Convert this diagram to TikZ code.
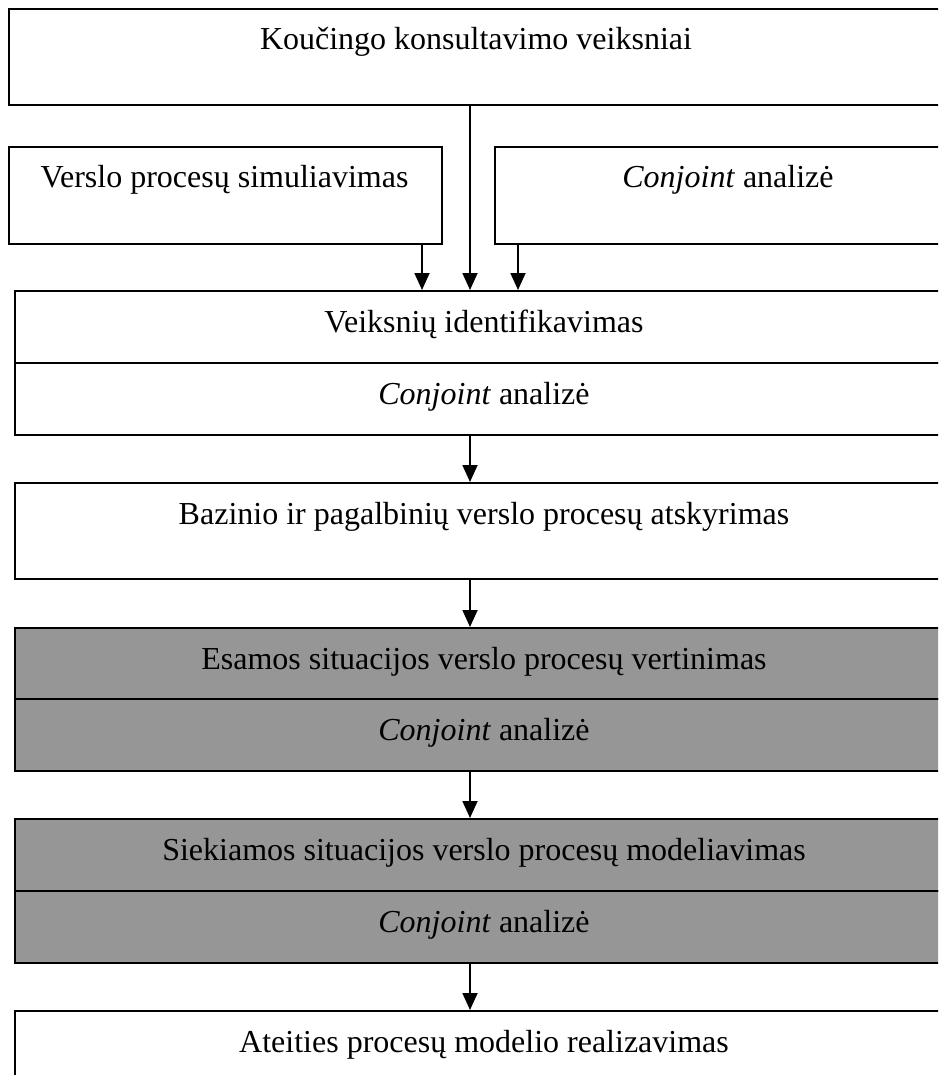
\documentclass[tikz,border=0pt]{standalone}
\usepackage{fontspec}
\setmainfont{Liberation Serif}
\usetikzlibrary{arrows.meta}
\definecolor{boxgrey}{RGB}{150,150,150}

\begin{document}
\begin{tikzpicture}[x=1pt,y=-1pt,
  box/.style={draw=black, line width=1.8pt, rectangle, inner sep=0pt, anchor=north west, fill=white},
  shaded/.style={box, fill=boxgrey},
  txt/.style={anchor=base, inner sep=0pt, font=\fontsize{32}{38}\selectfont},
  arr/.style={-{Triangle[width=15pt,length=17pt]}, line width=1.8pt}]
\useasboundingbox (0,0) rectangle (938,1075);
\clip (0,0) rectangle (938,1075);

% columns used by the connectors
\coordinate (mid) at (470,0);
\coordinate (lx) at (422,0);
\coordinate (rx) at (518,0);

% boxes (the wide ones run on past the right edge)
\node[box, minimum width=946pt, minimum height=96pt] (top) at (8,8) {};
\node[box, minimum width=433pt, minimum height=97pt] (vp) at (8,146) {};
\node[box, minimum width=460pt, minimum height=97pt] (ca) at (494,146) {};
\node[box, minimum width=940pt, minimum height=72pt] (veikA) at (14,290) {};
\node[box, minimum width=940pt, minimum height=72pt] (veikB) at (14,362) {};
\node[box, minimum width=940pt, minimum height=96pt] (baz) at (14,482) {};
\node[shaded, minimum width=940pt, minimum height=71pt] (esA) at (14,627) {};
\node[shaded, minimum width=940pt, minimum height=72pt] (esB) at (14,698) {};
\node[shaded, minimum width=940pt, minimum height=72pt] (siA) at (14,818) {};
\node[shaded, minimum width=940pt, minimum height=72pt] (siB) at (14,890) {};
\node[box, minimum width=940pt, minimum height=100pt] (at) at (14,1010) {};

% labels, baseline 42pt below the top of each cell
\node[txt] (tTop) at (476,50) {Koučingo konsultavimo veiksniai};
\node[txt] (tVp) at (224.5,188) {Verslo procesų simuliavimas};
\node[txt] (tCa) at (728,188) {\textit{Conjoint} analizė};
\node[txt] (tVeikA) at (484,332) {Veiksnių identifikavimas};
\node[txt] (tVeikB) at (484,404) {\textit{Conjoint} analizė};
\node[txt] (tBaz) at (484,524) {Bazinio ir pagalbinių verslo procesų atskyrimas};
\node[txt] (tEsA) at (484,669) {Esamos situacijos verslo procesų vertinimas};
\node[txt] (tEsB) at (484,740) {\textit{Conjoint} analizė};
\node[txt] (tSiA) at (484,860) {Siekiamos situacijos verslo procesų modeliavimas};
\node[txt] (tSiB) at (484,932) {\textit{Conjoint} analizė};
\node[txt] (tAt) at (484,1052) {Ateities procesų modelio realizavimas};

% connectors
\draw[arr] (top.south -| mid) -- (veikA.north -| mid);
\draw[arr] (vp.south -| lx) -- (veikA.north -| lx);
\draw[arr] (ca.south -| rx) -- (veikA.north -| rx);
\draw[arr] (veikB.south -| mid) -- (baz.north -| mid);
\draw[arr] (baz.south -| mid) -- (esA.north -| mid);
\draw[arr] (esB.south -| mid) -- (siA.north -| mid);
\draw[arr] (siB.south -| mid) -- (at.north -| mid);
\end{tikzpicture}
\end{document}
